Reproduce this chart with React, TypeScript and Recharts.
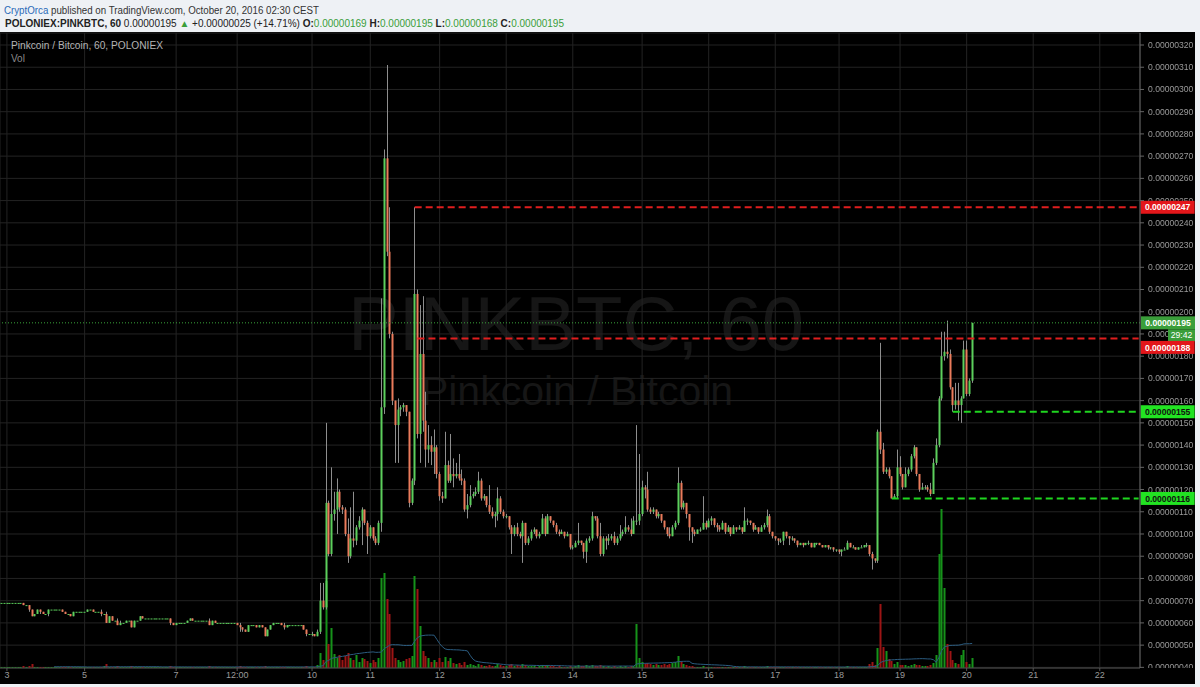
import {
  Bar,
  CartesianGrid,
  ComposedChart,
  Line,
  ReferenceLine,
  XAxis,
  YAxis,
} from "recharts";

// hourly bars, prices in satoshi (1e-8 BTC); open of a bar = previous close
const CLOSE = [
  69, 69, 69, 69, 69, 69, 69, 69, 68, 68,
  66, 63, 64, 66, 65, 64, 64, 66, 66, 66,
  66, 66, 65, 64, 64, 63, 65, 65, 65, 65,
  65, 66, 66, 65, 65, 65, 64, 64, 60, 63,
  61, 61, 59, 60, 60, 61, 61, 58, 61, 61,
  63, 62, 62, 62, 62, 62, 62, 62, 62, 62,
  62, 60, 59, 60, 60, 60, 60, 61, 62, 61,
  61, 61, 61, 61, 61, 59, 61, 60, 60, 60,
  60, 60, 60, 60, 60, 59, 58, 57, 56, 59,
  59, 59, 58, 59, 58, 54, 57, 59, 60, 60,
  60, 59, 58, 59, 59, 59, 59, 59, 59, 57,
  55, 55, 55, 54, 56, 70, 67, 114, 91, 109,
  111, 119, 112, 111, 100, 90, 98, 97, 103, 106,
  111, 105, 99, 103, 98, 96, 105, 157, 269, 227,
  190, 160, 149, 156, 157, 158, 155, 114, 124, 208,
  145, 181, 151, 138, 140, 137, 139, 127, 117, 116,
  131, 124, 127, 126, 127, 125, 124, 111, 113, 117,
  118, 119, 124, 116, 117, 113, 110, 108, 109, 116,
  110, 108, 108, 103, 100, 103, 100, 99, 105, 96,
  98, 101, 102, 99, 100, 107, 100, 108, 106, 104,
  101, 100, 101, 99, 100, 94, 94, 96, 97, 96,
  92, 97, 98, 108, 107, 99, 91, 98, 97, 98,
  99, 96, 98, 100, 101, 103, 102, 100, 106, 106,
  109, 121, 120, 111, 110, 111, 108, 109, 106, 103,
  100, 99, 103, 105, 123, 112, 114, 109, 103, 101,
  100, 102, 102, 105, 103, 106, 107, 104, 103, 102,
  105, 101, 103, 100, 103, 102, 103, 101, 106, 106,
  105, 102, 103, 101, 103, 104, 108, 101, 99, 98,
  97, 97, 101, 99, 98, 98, 97, 95, 96, 95,
  96, 96, 94, 96, 96, 95, 94, 95, 94, 94,
  93, 93, 92, 93, 93, 96, 94, 94, 93, 94,
  94, 95, 95, 91, 89, 88, 146, 138, 128, 129,
  126, 116, 117, 130, 127, 121, 127, 129, 135, 139,
  127, 120, 121, 121, 120, 118, 132, 140, 161, 180,
  182, 181, 166, 158, 160, 158, 161, 183, 163, 169, 195,
];

const HIGH = [
  69, 69, 69, 69, 69, 69, 69, 69, 69, 68,
  68, 66, 64, 66, 66, 65, 64, 66, 66, 66,
  66, 66, 66, 65, 64, 64, 65, 65, 65, 65,
  65, 66, 66, 66, 65, 65, 66, 64, 65, 63,
  63, 61, 62, 61, 60, 61, 61, 61, 61, 61,
  63, 63, 62, 62, 62, 62, 62, 62, 62, 62,
  62, 62, 60, 60, 60, 60, 60, 61, 62, 62,
  61, 61, 61, 61, 61, 62, 61, 61, 60, 60,
  60, 60, 60, 60, 60, 60, 60, 58, 57, 59,
  59, 59, 59, 59, 59, 58, 57, 59, 60, 60,
  60, 60, 60, 59, 59, 59, 59, 59, 59, 59,
  57, 55, 56, 55, 57, 78, 78, 150, 115, 130,
  119, 125, 120, 113, 112, 107, 112, 119, 104, 108,
  112, 111, 106, 104, 103, 99, 106, 206, 273, 311,
  247, 191, 160, 161, 158, 159, 158, 155, 125, 247,
  210, 203, 207, 164, 149, 144, 147, 140, 128, 119,
  146, 133, 145, 134, 132, 136, 129, 125, 118, 122,
  119, 121, 128, 125, 118, 117, 122, 112, 110, 121,
  117, 111, 109, 108, 104, 104, 105, 101, 106, 105,
  99, 102, 103, 102, 101, 109, 108, 109, 108, 106,
  105, 102, 102, 101, 101, 100, 95, 97, 105, 97,
  96, 98, 99, 110, 108, 108, 105, 99, 99, 100,
  100, 101, 99, 104, 102, 108, 104, 107, 108, 149,
  136, 124, 122, 128, 112, 112, 111, 110, 109, 106,
  103, 103, 104, 106, 130, 124, 115, 114, 109, 103,
  102, 102, 103, 117, 106, 107, 108, 107, 105, 104,
  106, 105, 104, 103, 104, 103, 104, 103, 112, 107,
  106, 105, 104, 103, 104, 105, 111, 109, 101, 99,
  98, 98, 101, 101, 99, 99, 98, 97, 96, 96,
  96, 97, 96, 96, 96, 96, 95, 95, 95, 94,
  94, 93, 93, 93, 94, 97, 96, 95, 94, 94,
  95, 95, 96, 95, 92, 89, 147, 186, 141, 130,
  130, 126, 118, 138, 135, 127, 130, 130, 136, 140,
  139, 127, 123, 122, 122, 123, 134, 143, 162, 191,
  191, 196, 183, 166, 168, 168, 162, 187, 187, 170, 195,
];

const LOW = [
  69, 69, 69, 69, 69, 69, 69, 69, 68, 68,
  65, 63, 63, 64, 64, 64, 64, 63, 66, 66,
  66, 66, 65, 64, 64, 63, 63, 65, 65, 65,
  65, 65, 66, 65, 65, 65, 63, 64, 60, 60,
  61, 61, 59, 59, 60, 60, 61, 58, 58, 61,
  61, 62, 62, 62, 62, 62, 62, 62, 62, 62,
  62, 59, 59, 59, 60, 60, 60, 60, 61, 61,
  61, 61, 61, 61, 61, 59, 59, 60, 60, 60,
  60, 60, 60, 60, 60, 59, 56, 56, 56, 56,
  59, 59, 58, 58, 58, 54, 54, 57, 59, 60,
  60, 59, 57, 58, 59, 59, 59, 59, 59, 57,
  54, 55, 54, 54, 54, 55, 66, 66, 90, 90,
  106, 100, 110, 109, 99, 87, 89, 94, 95, 102,
  95, 104, 91, 98, 97, 95, 95, 101, 154, 225,
  188, 158, 132, 132, 153, 155, 153, 112, 113, 122,
  143, 132, 146, 130, 132, 131, 127, 125, 115, 114,
  116, 123, 123, 121, 125, 124, 122, 110, 107, 112,
  116, 117, 118, 115, 115, 112, 109, 107, 103, 106,
  109, 107, 107, 102, 91, 99, 99, 98, 87, 95,
  95, 97, 100, 98, 98, 100, 99, 100, 105, 103,
  100, 99, 100, 98, 99, 93, 93, 94, 95, 95,
  89, 87, 96, 97, 106, 98, 90, 90, 93, 95,
  97, 95, 95, 97, 99, 100, 101, 99, 100, 104,
  104, 108, 116, 110, 109, 109, 107, 107, 105, 102,
  99, 98, 99, 102, 104, 111, 111, 107, 97, 96,
  99, 100, 101, 102, 102, 103, 104, 103, 101, 101,
  102, 100, 101, 99, 100, 101, 102, 100, 101, 104,
  104, 101, 102, 100, 101, 102, 103, 100, 98, 97,
  95, 96, 95, 98, 95, 97, 96, 94, 95, 94,
  95, 95, 94, 94, 95, 95, 94, 94, 93, 93,
  92, 92, 91, 90, 93, 93, 94, 94, 93, 93,
  94, 94, 94, 90, 84, 87, 87, 136, 127, 127,
  125, 116, 116, 116, 126, 120, 121, 126, 128, 134,
  126, 119, 120, 120, 119, 117, 118, 131, 139, 160,
  178, 179, 165, 155, 156, 151, 150, 161, 162, 162, 168,
];

// relative volume per bar
const VOLUME = [
  1, 1, 1, 1, 1, 1, 1, 1, 2, 1,
  2, 4, 1, 1, 1, 1, 1, 1, 1, 1,
  1, 1, 1, 1, 1, 1, 1, 1, 1, 1,
  1, 1, 1, 1, 1, 1, 1, 2, 4, 1,
  1, 1, 2, 1, 1, 1, 1, 2, 1, 1,
  1, 1, 1, 1, 1, 1, 1, 1, 1, 1,
  1, 2, 1, 1, 1, 1, 1, 1, 1, 1,
  1, 1, 1, 1, 1, 2, 1, 1, 1, 1,
  1, 1, 1, 1, 1, 1, 2, 1, 1, 1,
  1, 1, 1, 1, 1, 2, 1, 1, 1, 1,
  1, 1, 1, 1, 1, 1, 1, 1, 1, 1,
  2, 1, 1, 1, 3, 15, 8, 87, 24, 40,
  14, 10, 13, 8, 12, 15, 10, 8, 13, 6,
  10, 9, 7, 5, 8, 6, 10, 90, 95, 69,
  54, 20, 10, 8, 6, 7, 9, 10, 12, 92,
  79, 42, 17, 12, 10, 6, 8, 6, 10, 6,
  11, 7, 10, 5, 4, 5, 3, 6, 3, 4,
  3, 2, 4, 3, 2, 2, 3, 2, 2, 4,
  3, 2, 2, 3, 4, 2, 3, 2, 4, 3,
  2, 2, 2, 1, 2, 3, 2, 3, 2, 2,
  1, 2, 1, 1, 1, 2, 1, 2, 3, 2,
  2, 3, 2, 3, 2, 2, 3, 2, 1, 2,
  1, 2, 1, 2, 1, 2, 1, 2, 2, 44,
  10, 6, 4, 5, 4, 3, 4, 3, 3, 4,
  3, 4, 5, 6, 12, 6, 4, 3, 2, 2,
  1, 1, 1, 2, 1, 1, 1, 1, 1, 1,
  1, 1, 1, 1, 1, 1, 1, 1, 2, 1,
  1, 1, 1, 1, 1, 1, 2, 1, 1, 1,
  1, 1, 1, 1, 1, 1, 1, 1, 1, 1,
  1, 1, 1, 1, 1, 1, 1, 1, 1, 1,
  1, 1, 1, 1, 1, 2, 1, 1, 1, 1,
  1, 1, 1, 4, 6, 3, 20, 64, 21, 17,
  9, 7, 4, 6, 3, 3, 3, 2, 3, 4,
  3, 3, 2, 2, 2, 3, 5, 13, 114, 159,
  80, 24, 17, 8, 5, 4, 13, 18, 6, 4, 10,
];

const FUTURE_BARS = 60;
const VOL_MA_LEN = 20;

const PRICE_DOMAIN = [39.71, 325.4];
const PRICE_TICKS = [
  40, 50, 60, 70, 80, 90, 100, 110, 120, 130, 140, 150, 160, 170, 180,
  190, 200, 210, 220, 230, 240, 250, 260, 270, 280, 290, 300, 310, 320,
];
const TIME_TICK_BARS = [2, 30, 63, 85, 112, 133, 158, 182, 206, 231, 255, 279, 302, 324, 348, 372, 396];
const TIME_TICK_LABELS = ["3", "5", "7", "12:00", "10", "11", "12", "13", "14", "15", "16", "17", "18", "19", "20", "21", "22"];

const RESISTANCE = [247, 188];
const RESISTANCE_FROM = [149, 150];
const SUPPORT = [155, 116];
const SUPPORT_FROM = [343, 321];
const LAST_PRICE = 195;
const COUNTDOWN = "29:42";
const TAG_SHIFT: Record<number, number> = { 188: 9 }; // pushed down below the countdown box

const UP = "#5ccf5c";
const DOWN = "#ea7b5b";
const WICK = "#8e8e8e";
const VOL_UP = "#16921a";
const VOL_DOWN = "#9c1515";
const AXIS_FONT = "'Liberation Sans', Arial, sans-serif";

const PLOT_BOTTOM = 636;
const PLOT_H = 635;

const rows = Array.from({ length: CLOSE.length + FUTURE_BARS }, (_, i) => {
  if (i >= CLOSE.length) return { idx: i };
  const c = CLOSE[i];
  const o = i === 0 ? c : CLOSE[i - 1];
  let volMa: number | undefined;
  if (i >= VOL_MA_LEN - 1) {
    let s = 0;
    for (let k = i - VOL_MA_LEN + 1; k <= i; k++) s += VOLUME[k];
    volMa = s / VOL_MA_LEN;
  }
  return {
    idx: i,
    o,
    c,
    h: HIGH[i],
    l: LOW[i],
    range: [LOW[i], HIGH[i] + 0.001],
    vol: VOLUME[i],
    volMa,
    up: c >= o,
  };
});

const fmt = (v: number) => (v / 1e8).toFixed(8);

function Candle(props: any) {
  const { x, y, width, height, payload } = props;
  if (!payload || payload.c == null || !(height > 0)) return null;
  const top = payload.h + 0.001;
  const k = height / (top - payload.l);
  const py = (v: number) => y + (top - v) * k;
  const cx = Math.round(x + width / 2);
  const bTop = py(Math.max(payload.o, payload.c));
  const bBot = py(Math.min(payload.o, payload.c));
  return (
    <g>
      {payload.h > payload.l && (
        <line x1={cx + 0.5} x2={cx + 0.5} y1={py(payload.h)} y2={py(payload.l)} stroke={WICK} strokeWidth={1} />
      )}
      <rect x={cx - 0.5} y={bTop} width={2} height={Math.max(1, bBot - bTop)} fill={payload.up ? UP : DOWN} />
    </g>
  );
}

function VolBar(props: any) {
  const { x, y, width, height, payload } = props;
  if (!payload || payload.vol == null) return null;
  const cx = Math.round(x + width / 2);
  return <rect x={cx - 0.5} y={y} width={2} height={Math.max(0.5, height)} fill={payload.up ? VOL_UP : VOL_DOWN} />;
}

// tick labels sit under the line tags, so mask out the parts the tags cover
function PriceTick(props: any) {
  const { x, y, payload } = props;
  const v = payload.value;
  const k = PLOT_H / (PRICE_DOMAIN[1] - PRICE_DOMAIN[0]);
  const tagY = (lv: number) => y + (v - lv) * k + (TAG_SHIFT[lv] ?? 0);
  const levels = [...RESISTANCE, ...SUPPORT, LAST_PRICE];
  const id = `pm-${v}`;
  return (
    <g>
      <defs>
        <mask id={id} maskUnits="userSpaceOnUse" x={x - 20} y={-20} width={90} height={700}>
          <rect x={x - 20} y={-20} width={90} height={PLOT_BOTTOM + 20} fill="#fff" />
          {levels.map((lv) => (
            <rect key={lv} x={x - 10} y={tagY(lv) - 6.5} width={70} height={13} fill="#000" />
          ))}
          <rect x={x + 20} y={tagY(LAST_PRICE) + 6.5} width={50} height={12} fill="#000" />
        </mask>
      </defs>
      <text x={x} y={y + 3} fill="#9a9a9a" fontSize={8.6} fontFamily={AXIS_FONT} mask={`url(#${id})`}>
        {fmt(v)}
      </text>
    </g>
  );
}

function PriceTag({ viewBox, text, bg, fg, dy = 0 }: any) {
  if (!viewBox) return null;
  const x = viewBox.x + viewBox.width + 2;
  const y = viewBox.y + dy;
  return (
    <g>
      <rect x={x} y={y - 6.5} width={54} height={13} fill={bg} />
      <text x={x + 27} y={y + 3.2} textAnchor="middle" fill={fg} fontSize={8.6} fontWeight="bold" fontFamily={AXIS_FONT}>
        {text}
      </text>
    </g>
  );
}

function LastTag({ viewBox }: any) {
  if (!viewBox) return null;
  const x = viewBox.x + viewBox.width + 1;
  const y = viewBox.y;
  return (
    <g>
      <rect x={x} y={y - 6.5} width={54} height={13} fill="#3a9e3a" />
      <text x={x + 27} y={y + 3.2} textAnchor="middle" fill="#fff" fontSize={8.6} fontWeight="bold" fontFamily={AXIS_FONT}>
        {fmt(LAST_PRICE)}
      </text>
      <rect x={x + 27} y={y + 6.5} width={27} height={12} fill="#3a9e3a" />
      <text x={x + 40.5} y={y + 15.5} textAnchor="middle" fill="#fff" fontSize={8.6} fontFamily={AXIS_FONT}>
        {COUNTDOWN}
      </text>
    </g>
  );
}

function Header() {
  return (
    <svg width={1200} height={32} style={{ position: "absolute", left: 0, top: 0 }}>
      <text x={4} y={14} fontSize={10} fontFamily={AXIS_FONT} fill="#333" textLength={315} lengthAdjust="spacingAndGlyphs">
        <tspan fill="#2a6ab8">CryptOrca</tspan> published on TradingView.com, October 20, 2016 02:30 CEST
      </text>
      <text x={5} y={27} fontSize={10} fontFamily={AXIS_FONT} fill="#222" textLength={559} lengthAdjust="spacingAndGlyphs">
        <tspan fontWeight="bold">POLONIEX:PINKBTC, 60</tspan>
        <tspan> 0.00000195 </tspan>
        <tspan fill="#3a9e3a">▲</tspan>
        <tspan> +0.00000025 (+14.71%) </tspan>
        <tspan fontWeight="bold">O:</tspan>
        <tspan fill="#3a9e3a">0.00000169</tspan>
        <tspan fontWeight="bold"> H:</tspan>
        <tspan fill="#3a9e3a">0.00000195</tspan>
        <tspan fontWeight="bold"> L:</tspan>
        <tspan fill="#3a9e3a">0.00000168</tspan>
        <tspan fontWeight="bold"> C:</tspan>
        <tspan fill="#3a9e3a">0.00000195</tspan>
      </text>
    </svg>
  );
}

export default function App() {
  return (
    <div
      style={{
        position: "fixed",
        left: 0,
        top: 0,
        width: 1200,
        height: 687,
        background: "#eef1f5",
        overflow: "hidden",
      }}
    >
      <Header />
      <div style={{ position: "absolute", left: 0, top: 32, width: 1195, height: 652, background: "#000" }}>
        <svg width={1195} height={652} style={{ position: "absolute", left: 0, top: 0 }}>
          <text x={576} y={318} textAnchor="middle" fontSize={76} fontFamily={AXIS_FONT} fill="#161616">
            PINKBTC, 60
          </text>
          <text x={577} y={373} textAnchor="middle" fontSize={41} fontFamily={AXIS_FONT} fill="#161616">
            Pinkcoin / Bitcoin
          </text>
        </svg>
        <div style={{ position: "absolute", left: 0, top: 0 }}>
          <ComposedChart width={1195} height={652} data={rows} margin={{ top: 1, right: 0, bottom: 0, left: 0 }}>
            <CartesianGrid xAxisId="t" yAxisId="p" stroke="#232323" />
            <XAxis
              xAxisId="t"
              dataKey="idx"
              type="category"
              ticks={TIME_TICK_BARS}
              interval={0}
              height={16}
              tickSize={3}
              tickMargin={1}
              tickFormatter={(v: number) => TIME_TICK_LABELS[TIME_TICK_BARS.indexOf(v)] ?? ""}
              tick={{ fill: "#9a9a9a", fontSize: 9, fontFamily: AXIS_FONT }}
              tickLine={{ stroke: "#555" }}
              axisLine={{ stroke: "#4a4a4a" }}
            />
            <XAxis xAxisId="v" dataKey="idx" type="category" hide />
            <YAxis
              yAxisId="p"
              orientation="right"
              width={55}
              type="number"
              domain={PRICE_DOMAIN}
              allowDataOverflow
              ticks={PRICE_TICKS}
              interval={0}
              tickSize={4}
              tickMargin={4}
              tick={<PriceTick />}
              tickLine={{ stroke: "#666" }}
              axisLine={{ stroke: "#666" }}
            />
            <YAxis yAxisId="vol" orientation="right" type="number" domain={[0, PLOT_H]} hide />
            <Bar
              xAxisId="v"
              yAxisId="vol"
              dataKey="vol"
              barSize={2}
              shape={(p: any) => <VolBar {...p} />}
              isAnimationActive={false}
            />
            <Line
              xAxisId="v"
              yAxisId="vol"
              dataKey="volMa"
              stroke="#2b5c80"
              strokeWidth={1}
              dot={false}
              activeDot={false}
              isAnimationActive={false}
            />
            <Bar
              xAxisId="t"
              yAxisId="p"
              dataKey="range"
              barSize={2}
              shape={(p: any) => <Candle {...p} />}
              isAnimationActive={false}
            />
            <ReferenceLine
              xAxisId="t"
              yAxisId="p"
              y={LAST_PRICE}
              stroke="#3aa53a"
              strokeDasharray="1 2"
              label={(p: any) => <LastTag viewBox={p.viewBox} />}
            />
            {RESISTANCE.map((lv, k) => (
              <ReferenceLine
                key={`r${lv}`}
                xAxisId="t"
                yAxisId="p"
                segment={[
                  { x: RESISTANCE_FROM[k], y: lv },
                  { x: rows.length - 1, y: lv },
                ]}
                stroke="#e01e1e"
                strokeWidth={2}
                strokeDasharray="7 4"
                label={(p: any) => (
                  <PriceTag viewBox={p.viewBox} text={fmt(lv)} bg="#e3161a" fg="#fff" dy={TAG_SHIFT[lv] ?? 0} />
                )}
              />
            ))}
            {SUPPORT.map((lv, k) => (
              <ReferenceLine
                key={`s${lv}`}
                xAxisId="t"
                yAxisId="p"
                segment={[
                  { x: SUPPORT_FROM[k], y: lv },
                  { x: rows.length - 1, y: lv },
                ]}
                stroke="#1fd51f"
                strokeWidth={2}
                strokeDasharray="7 4"
                label={(p: any) => <PriceTag viewBox={p.viewBox} text={fmt(lv)} bg="#22e322" fg="#111" />}
              />
            ))}
          </ComposedChart>
        </div>
        <svg width={300} height={40} style={{ position: "absolute", left: 0, top: 0 }}>
          <text x={11} y={17} fontSize={10} fontFamily={AXIS_FONT} fill="#b4b4b4" textLength={152} lengthAdjust="spacingAndGlyphs">
            Pinkcoin / Bitcoin, 60, POLONIEX
          </text>
          <text x={11} y={30} fontSize={10} fontFamily={AXIS_FONT} fill="#8a8a8a">
            Vol
          </text>
        </svg>
      </div>
    </div>
  );
}
